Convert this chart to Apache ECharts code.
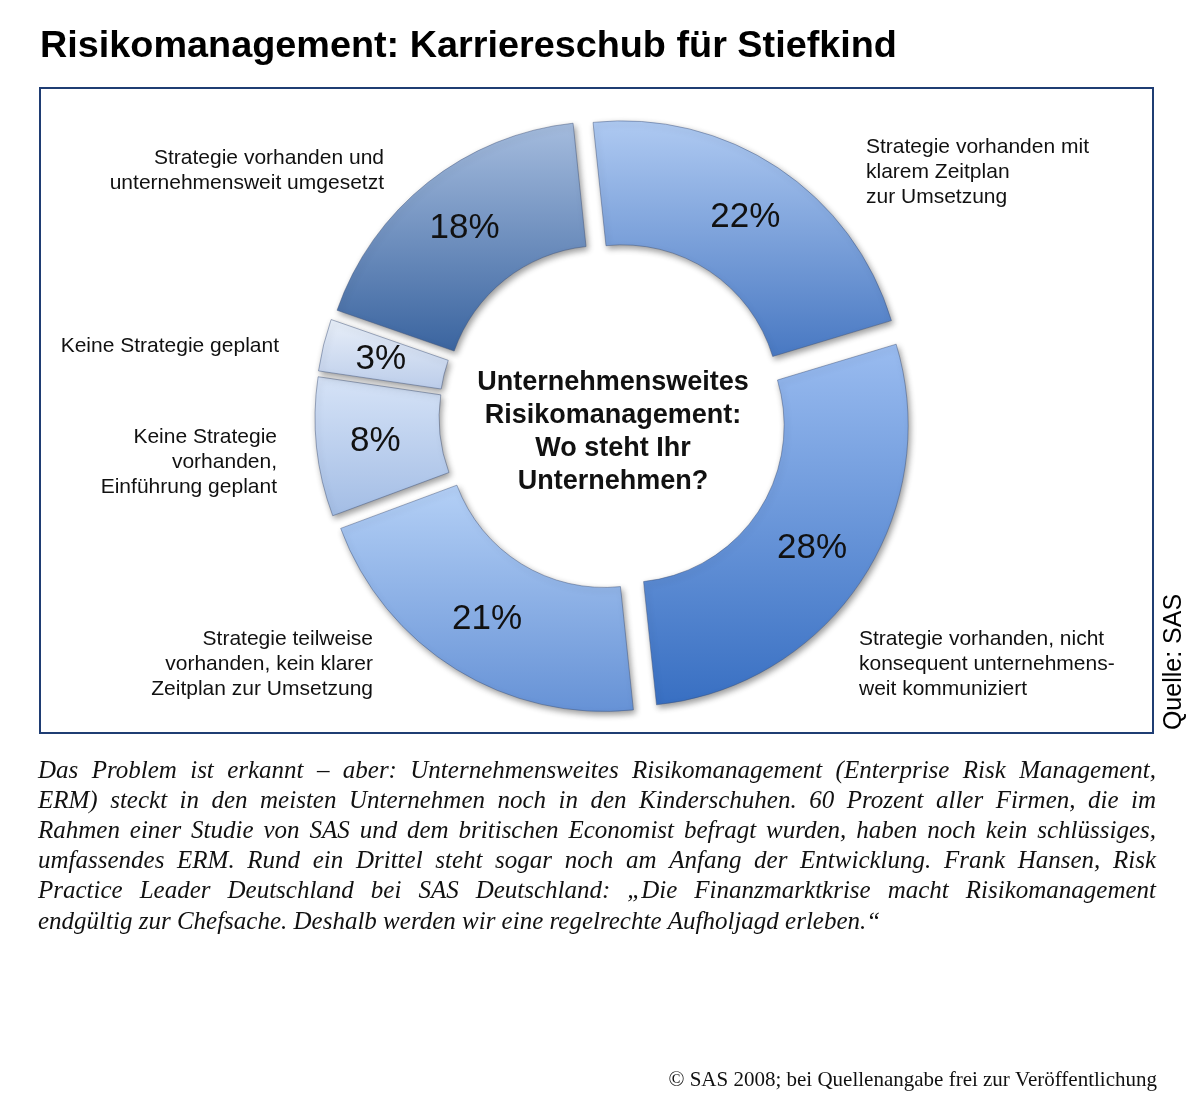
<!DOCTYPE html>
<html><head><meta charset="utf-8">
<script src="https://cdn.jsdelivr.net/npm/echarts@6/dist/echarts.min.js"></script>
<style>html,body{margin:0;padding:0;background:#fff}#c{width:1200px;height:1098px}</style>
</head><body><div id="c"></div>
<script>
// ---- data ----
const chartTitle = 'Risikomanagement: Karriereschub für Stiefkind';
const categories = [
  'Strategie vorhanden mit\nklarem Zeitplan\nzur Umsetzung',
  'Strategie vorhanden, nicht\nkonsequent unternehmens-\nweit kommuniziert',
  'Strategie teilweise\nvorhanden, kein klarer\nZeitplan zur Umsetzung',
  'Keine Strategie\nvorhanden,\nEinführung geplant',
  'Keine Strategie geplant',
  'Strategie vorhanden und\nunternehmensweit umgesetzt'
];
const shares = [22, 28, 21, 8, 3, 18];
const centerText = ['Unternehmensweites', 'Risikomanagement:', 'Wo steht Ihr', 'Unternehmen?'];
const sourceText = 'Quelle: SAS';
const paragraphLines = [
  'Das Problem ist erkannt – aber: Unternehmensweites Risikomanagement (Enterprise Risk Management,',
  'ERM) steckt in den meisten Unternehmen noch in den Kinderschuhen. 60 Prozent aller Firmen, die im',
  'Rahmen einer Studie von SAS und dem britischen Economist befragt wurden, haben noch kein schlüssiges,',
  'umfassendes ERM. Rund ein Drittel steht sogar noch am Anfang der Entwicklung. Frank Hansen, Risk',
  'Practice Leader Deutschland bei SAS Deutschland: „Die Finanzmarktkrise macht Risikomanagement',
  'endgültig zur Chefsache. Deshalb werden wir eine regelrechte Aufholjagd erleben.“'
];
const copyrightText = '© SAS 2008; bei Quellenangabe frei zur Veröffentlichung';

// ---- styles ----
const gradients = [
  ['#afcaf2', '#4878c2'],
  ['#9abcf0', '#386fc2'],
  ['#b4d0f6', '#6692d6'],
  ['#d6e3f7', '#a3bde5'],
  ['#e8eff9', '#bccdea'],
  ['#a5bcde', '#3a649f']
];
// label anchors (x, top y, align) for the category labels
const labelAnchors = [
  [866, 135, 'left'],
  [859, 627, 'left'],
  [373, 627, 'right'],
  [277, 425, 'right'],
  [279, 334, 'right'],
  [384, 146, 'right']
];
const SANS = '"Liberation Sans", Arial, sans-serif';
const SERIF = '"Liberation Serif", "Times New Roman", serif';

const chart = echarts.init(document.getElementById('c'));

function grad(i) {
  return { type: 'linear', x: 0, y: 0, x2: 0, y2: 1,
    colorStops: [{ offset: 0, color: gradients[i][0] }, { offset: 1, color: gradients[i][1] }] };
}

const mainData = shares.map((v, i) => ({
  value: v, name: categories[i], selected: true,
  itemStyle: { color: grad(i) }
}));
const labelData = shares.map((v, i) => ({ value: v, name: categories[i] }));

// justified paragraph
const measureCtx = document.createElement('canvas').getContext('2d');
const paraFont = 'italic 25px ' + SERIF;
measureCtx.font = paraFont;
const paraLeft = 38, paraRight = 1156, paraTop = 771, paraStep = 30.2;
const paraEls = [];
paragraphLines.forEach((line, li) => {
  const words = line.split(' ');
  const widths = words.map(w => measureCtx.measureText(w).width);
  const total = widths.reduce((a, b) => a + b, 0);
  const last = li === paragraphLines.length - 1;
  const gap = last ? measureCtx.measureText(' ').width : (paraRight - paraLeft - total) / (words.length - 1);
  let x = paraLeft;
  words.forEach((w, wi) => {
    paraEls.push({ type: 'text', style: { text: w, x: x, y: paraTop + li * paraStep,
      font: paraFont, fill: '#111', align: 'left', verticalAlign: 'middle' } });
    x += widths[wi] + gap;
  });
});

chart.setOption({
  animation: false,
  backgroundColor: '#fff',
  graphic: [
    { type: 'text', style: { text: chartTitle, x: 40, y: 47, font: 'bold 37.8px ' + SANS,
      fill: '#000', align: 'left', verticalAlign: 'middle' } },
    { type: 'rect', shape: { x: 40, y: 88, width: 1113, height: 645 },
      style: { fill: 'none', stroke: '#1f3d73', lineWidth: 2 } },
    { type: 'text', x: 1174, y: 662, rotation: Math.PI / 2,
      style: { text: sourceText, x: 0, y: 0, font: '25px ' + SANS, fill: '#000',
        align: 'center', verticalAlign: 'middle' } },
    { type: 'text', z: 10, style: { text: centerText.join('\n'), x: 613, y: 432, font: 'bold 27px ' + SANS,
      lineHeight: 33, fill: '#111', align: 'center', verticalAlign: 'middle' } },
    { type: 'text', style: { text: copyrightText, x: 1157, y: 1080, font: '21px ' + SERIF,
      fill: '#111', align: 'right', verticalAlign: 'middle' } }
  ].concat(paraEls),
  series: [
    {
      type: 'pie',
      center: [613, 416],
      radius: [157, 281],
      startAngle: 96,
      clockwise: true,
      selectedMode: 'multiple',
      selectedOffset: 17,
      avoidLabelOverlap: false,
      emphasis: { disabled: true },
      itemStyle: { borderColor: 'rgba(60,80,120,0.45)', borderWidth: 1,
        shadowBlur: 6, shadowColor: 'rgba(0,0,0,0.4)', shadowOffsetX: 2, shadowOffsetY: 3 },
      select: { itemStyle: { borderColor: 'rgba(60,80,120,0.45)', borderWidth: 1 } },
      label: { show: true, position: 'inside', formatter: '{c}%', fontFamily: SANS,
        fontSize: 35, color: '#111' },
      labelLine: { show: false },
      data: mainData
    },
    {
      type: 'pie',
      silent: true,
      center: [613, 416],
      radius: [157, 281],
      startAngle: 96,
      clockwise: true,
      itemStyle: { color: 'rgba(0,0,0,0)' },
      emphasis: { disabled: true },
      label: { show: true, position: 'outside', formatter: '{b}', fontFamily: SANS,
        fontSize: 21, lineHeight: 25, color: '#111' },
      labelLine: { show: false },
      labelLayout: function (p) {
        const a = labelAnchors[p.dataIndex];
        return { x: a[0], y: a[1], align: a[2], verticalAlign: 'top' };
      },
      data: labelData
    }
  ]
});
</script>
</body></html>
